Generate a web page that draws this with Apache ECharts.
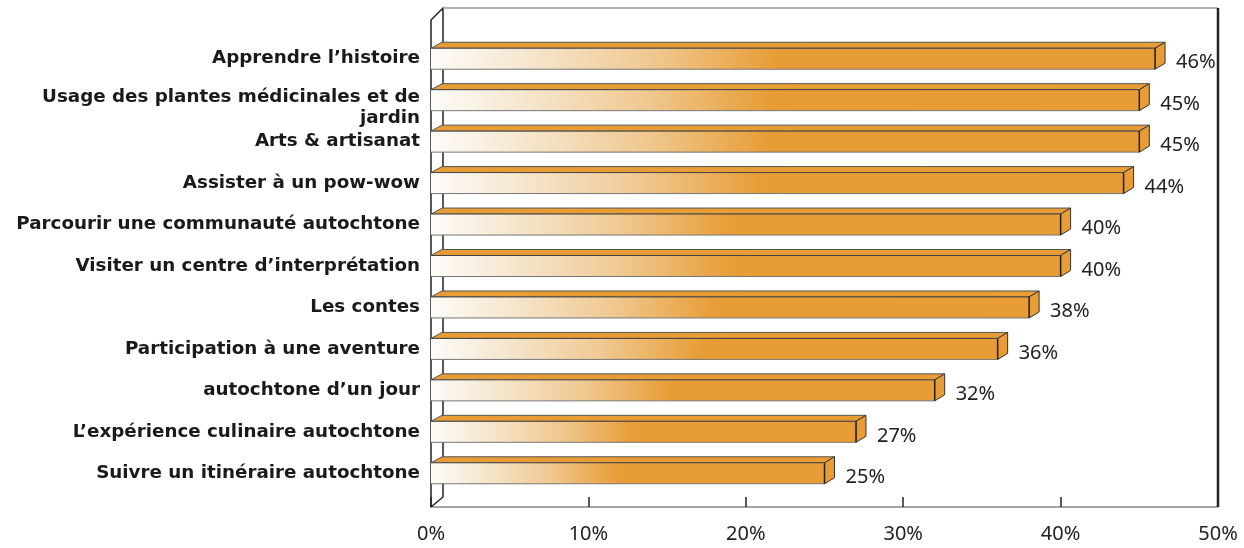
<!DOCTYPE html>
<html>
<head>
<meta charset="utf-8">
<script src="https://cdn.jsdelivr.net/npm/echarts@6/dist/echarts.min.js"></script>
<style>html,body{margin:0;padding:0;background:#fff;}#c{width:1244px;height:548px;}</style>
</head>
<body>
<div id="c"></div>
<script>
const categories = [
  "Apprendre l’histoire",
  "Usage des plantes médicinales et de\njardin",
  "Arts & artisanat",
  "Assister à un pow-wow",
  "Parcourir une communauté autochtone",
  "Visiter un centre d’interprétation",
  "Les contes",
  "Participation à une aventure",
  "autochtone d’un jour",
  "L’expérience culinaire autochtone",
  "Suivre un itinéraire autochtone"
];
const values = [46, 45, 45, 44, 40, 40, 38, 36, 32, 27, 25];
const tickLabels = ["0%", "10%", "20%", "30%", "40%", "50%"];

const ORANGE = '#e89c35';
const DX = 10, DY = 6, BAR_H = 21, AXIS_OFF = 13;
const CAT_FONT = '"DejaVu Sans", Verdana, sans-serif';
const CAT_SIZE = 18.3;

const chart = echarts.init(document.getElementById('c'), null, {renderer: 'canvas'});

function wallItem(params, api) {
  const cs = params.coordSys;
  const x0 = cs.x, x1 = cs.x + cs.width;
  const yb = cs.y + cs.height + AXIS_OFF;
  const topBack = cs.y - 30, topFront = topBack + 12;
  const bx = x0 + 12;
  return {
    type: 'group',
    children: [
      {type: 'polyline', shape: {points: [[x0, yb], [x0, topFront], [bx, topBack], [bx, yb - 10], [x0, yb]]},
       style: {stroke: '#222', lineWidth: 1.5, fill: null}},
      {type: 'line', shape: {x1: bx, y1: topBack, x2: x1, y2: topBack}, style: {stroke: '#999', lineWidth: 1.5}},
      {type: 'line', shape: {x1: x1, y1: topBack, x2: x1, y2: yb}, style: {stroke: '#222', lineWidth: 2.5}}
    ]
  };
}

function barItem(params, api) {
  const v = api.value(0), c = api.value(1);
  const p0 = api.coord([0, c]);
  const p1 = api.coord([v, c]);
  const xs = p0[0], xe = p1[0];
  const yt = p0[1] - BAR_H / 2, ybm = p0[1] + BAR_H / 2;
  const grad = new echarts.graphic.LinearGradient(0, 0, 1, 0, [
    {offset: 0, color: '#fdfcf8'},
    {offset: 0.14, color: '#f5e5cc'},
    {offset: 0.3, color: '#f0c992'},
    {offset: 0.48, color: ORANGE},
    {offset: 1, color: ORANGE}
  ]);
  return {
    type: 'group',
    children: [
      {type: 'polygon', shape: {points: [[xs, yt], [xe, yt], [xe + DX, yt - DY], [xs + DX + 1, yt - DY]]},
       style: {fill: ORANGE, stroke: '#555', lineWidth: 1}},
      {type: 'polygon', shape: {points: [[xe, yt], [xe + DX, yt - DY], [xe + DX, ybm - DY], [xe, ybm]]},
       style: {fill: ORANGE, stroke: '#333', lineWidth: 1}},
      {type: 'rect', shape: {x: xs, y: yt, width: xe - xs, height: BAR_H},
       style: {fill: grad, stroke: null}},
      {type: 'line', shape: {x1: xs, y1: yt, x2: xe, y2: yt}, style: {stroke: '#444', lineWidth: 1}},
      {type: 'line', shape: {x1: xs, y1: ybm, x2: xe, y2: ybm}, style: {stroke: '#777', lineWidth: 1}},
      {type: 'line', shape: {x1: xe, y1: yt, x2: xe, y2: ybm}, style: {stroke: '#222', lineWidth: 1.5}},
      {type: 'text', x: xe + 21, y: p0[1] + 4,
       style: {text: v + '%', fill: '#222', font: '20px "Noto Sans"', textVerticalAlign: 'middle', textAlign: 'left'}}
    ]
  };
}

const richBase = {fontSize: CAT_SIZE, fontWeight: 'bold', fontFamily: CAT_FONT, color: '#1a1a1a', lineHeight: 21, height: 21};

chart.setOption({
  animation: false,
  backgroundColor: '#fff',
  grid: {left: 431, width: 787, top: 38, height: 456, containLabel: false},
  xAxis: {
    type: 'value', min: 0, max: 50, interval: 10, offset: AXIS_OFF,
    axisLine: {show: true, lineStyle: {color: '#888', width: 1.5}},
    axisTick: {show: true, inside: true, length: 10, lineStyle: {color: '#222', width: 1.5}},
    splitLine: {show: false},
    axisLabel: {
      margin: 17, fontSize: 20, color: '#222', fontFamily: 'Noto Sans',
      formatter: function (val) { return tickLabels[Math.round(val / 10)]; },
      showMinLabel: true, showMaxLabel: true
    }
  },
  yAxis: {
    type: 'category', data: categories, inverse: true,
    axisLine: {show: false}, axisTick: {show: false}, splitLine: {show: false},
    axisLabel: {
      margin: 11, color: '#1a1a1a', fontSize: CAT_SIZE, fontWeight: 'bold', fontFamily: CAT_FONT,
      align: 'right', lineHeight: 21,
      formatter: function (s) {
        const parts = s.split('\n');
        if (parts.length === 1) return s;
        return '{s| }\n' + parts.map(p => '{n|' + p + '}').join('\n');
      },
      rich: {
        s: {fontSize: 8, lineHeight: 16, height: 16},
        n: richBase
      }
    }
  },
  series: [
    {type: 'custom', renderItem: wallItem, data: [[0, 0]], silent: true, z: 1, clip: false},
    {type: 'custom', renderItem: barItem, data: values.map((v, i) => [v, i]), z: 2, clip: false}
  ]
});
</script>
</body>
</html>
